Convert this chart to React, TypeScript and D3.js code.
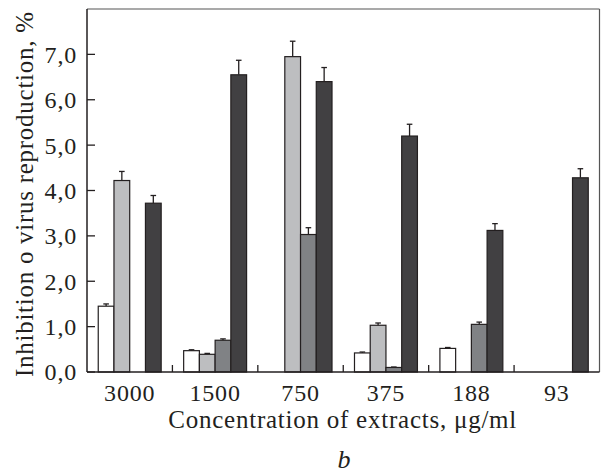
import React from "react";
import * as d3 from "d3";

const categories = ["3000", "1500", "750", "375", "188", "93"];
const seriesWhite = [1.45, 0.47, 0, 0.42, 0.52, 0];
const seriesLight = [4.22, 0.39, 6.95, 1.03, 0, 0];
const seriesMid = [0, 0.7, 3.03, 0.1, 1.05, 0];
const seriesDark = [3.72, 6.55, 6.4, 5.2, 3.12, 4.28];
const errWhite = [0.05, 0.02, 0, 0.02, 0.02, 0];
const errLight = [0.2, 0.02, 0.34, 0.05, 0, 0];
const errMid = [0, 0.03, 0.15, 0.01, 0.05, 0];
const errDark = [0.17, 0.32, 0.31, 0.26, 0.15, 0.2];
const yTicks = [0, 1, 2, 3, 4, 5, 6, 7];
const seriesKeys = ["white", "light", "mid", "dark"];
const colors = ["#ffffff", "#bdbec0", "#808285", "#414042"];

const W = 601;
const H = 474;
const M = { left: 87, right: 1.5, top: 9, bottom: 102 };
const FONT = "'Liberation Serif', 'Times New Roman', serif";

export default function App() {
  const values = [seriesWhite, seriesLight, seriesMid, seriesDark];
  const errs = [errWhite, errLight, errMid, errDark];
  const x0 = d3.scaleBand().domain(categories).range([M.left, W - M.right]).paddingInner(0).paddingOuter(0);
  const gw = x0.bandwidth();
  const x1 = d3.scaleBand().domain(seriesKeys).range([gw * 0.1316, gw * (1 - 0.1316)]).padding(0);
  const y = d3.scaleLinear().domain([0, 8]).range([H - M.bottom, M.top]);
  const fmt = (v: number) => v.toFixed(1).replace(".", ",");
  const y0 = y(0);
  const right = W - M.right;

  return (
    <svg width={W} height={H} style={{ position: "absolute", left: 0, top: 0, background: "#fff" }} fontFamily={FONT}>
      {/* frame top/right */}
      <line x1={M.left} x2={right} y1={M.top} y2={M.top} stroke="#555" strokeWidth={1.2} />
      <line x1={right} x2={right} y1={M.top} y2={y0} stroke="#555" strokeWidth={1.2} />
      {/* bars */}
      {categories.map((c, ci) => (
        <g key={c}>
          {seriesKeys.map((k, si) => {
            const v = values[si][ci];
            if (v <= 0) return null;
            const bx = (x0(c) as number) + (x1(k) as number);
            const bw = x1.bandwidth();
            const e = errs[si][ci];
            const cx = bx + bw / 2;
            return (
              <g key={k}>
                {e > 0 && (
                  <g stroke="#231f20" strokeWidth={1.3}>
                    <line x1={cx} x2={cx} y1={y(v)} y2={y(v + e)} />
                    <line x1={cx - 2.8} x2={cx + 2.8} y1={y(v + e)} y2={y(v + e)} />
                  </g>
                )}
                <rect x={bx} y={y(v)} width={bw} height={y0 - y(v)} fill={colors[si]} stroke="#231f20" strokeWidth={1.2} />
              </g>
            );
          })}
        </g>
      ))}
      {/* y axis */}
      <line x1={M.left} x2={M.left} y1={M.top} y2={y0} stroke="#231f20" strokeWidth={1.5} />
      {yTicks.map((t) => (
        <g key={t}>
          <line x1={M.left} x2={M.left + 8} y1={y(t)} y2={y(t)} stroke="#231f20" strokeWidth={1.3} />
          <text x={M.left - 10} y={y(t)} dy="0.35em" textAnchor="end" fontSize={24} letterSpacing={0.8} fill="#231f20">
            {fmt(t)}
          </text>
        </g>
      ))}
      {/* x axis */}
      <line x1={M.left} x2={right} y1={y0} y2={y0} stroke="#231f20" strokeWidth={1.5} />
      {categories.slice(1).map((c) => (
        <line key={c} x1={x0(c) as number} x2={x0(c) as number} y1={y0} y2={y0 - 7} stroke="#231f20" strokeWidth={1.3} />
      ))}
      {categories.map((c) => (
        <text key={c} x={(x0(c) as number) + gw / 2} y={401} textAnchor="middle" fontSize={24} letterSpacing={0.8} fill="#231f20">
          {c}
        </text>
      ))}
      <text x={(M.left + right) / 2 - 1} y={428} textAnchor="middle" fontSize={25} textLength={348} lengthAdjust="spacing" fill="#231f20">
        Concentration of extracts, μg/ml
      </text>
      <text transform={`translate(33,${(M.top + y0) / 2 + 4}) rotate(-90)`} textAnchor="middle" fontSize={25} textLength={365} lengthAdjust="spacing" fill="#231f20">
        Inhibition o virus reproduction, %
      </text>
      <text x={344} y={468} textAnchor="middle" fontSize={26} fontStyle="italic" fill="#231f20">
        b
      </text>
    </svg>
  );
}
